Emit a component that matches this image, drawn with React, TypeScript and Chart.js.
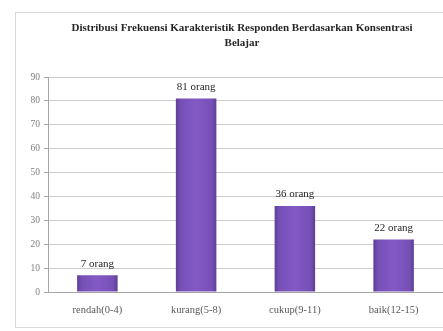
import React, { useEffect, useRef } from "react";
import { Chart, registerables } from "chart.js";

Chart.register(...registerables);

const titleLines = ["Distribusi Frekuensi Karakteristik Responden Berdasarkan Konsentrasi", "Belajar"];
const categories = ["rendah(0-4)", "kurang(5-8)", "cukup(9-11)", "baik(12-15)"];
const values = [7, 81, 36, 22];
const valueLabels = ["7 orang", "81 orang", "36 orang", "22 orang"];
const yMax = 90;
const yStep = 10;

const SERIF = "'Liberation Serif', 'Times New Roman', serif";

const titlePlugin = {
  id: "customTitle",
  afterDraw(chart: any) {
    const ctx = chart.ctx;
    ctx.save();
    ctx.fillStyle = "#262626";
    ctx.font = `bold 11px ${SERIF}`;
    ctx.textAlign = "center";
    ctx.textBaseline = "middle";
    ctx.fillText(titleLines[0], 242, 28);
    ctx.fillText(titleLines[1], 242, 43);
    ctx.restore();
  },
};

const labelPlugin = {
  id: "barLabels",
  afterDatasetsDraw(chart: any) {
    const ctx = chart.ctx;
    const meta = chart.getDatasetMeta(0);
    ctx.save();
    ctx.fillStyle = "#262626";
    ctx.font = `11px ${SERIF}`;
    ctx.textAlign = "center";
    ctx.textBaseline = "bottom";
    meta.data.forEach((el: any, i: number) => {
      ctx.fillText(valueLabels[i], el.x, el.y - 6);
    });
    ctx.restore();
  },
};

function barGradient(c: any) {
  const chart = c.chart;
  const xs = chart.scales && chart.scales.x;
  if (!xs || !chart.chartArea) return "#7a4fba";
  const cx = xs.getPixelForValue(c.dataIndex);
  const w = 41;
  const g = chart.ctx.createLinearGradient(cx - w / 2, 0, cx + w / 2, 0);
  g.addColorStop(0, "#5d3c95");
  g.addColorStop(0.12, "#7650b6");
  g.addColorStop(0.5, "#8459c6");
  g.addColorStop(0.88, "#7650b6");
  g.addColorStop(1, "#5d3c95");
  return g;
}

export default function App() {
  const ref = useRef<HTMLCanvasElement>(null);
  useEffect(() => {
    if (!ref.current) return;
    const chart = new Chart(ref.current, {
      type: "bar",
      data: {
        labels: categories,
        datasets: [
          {
            data: values,
            backgroundColor: barGradient as any,
            borderWidth: 0,
            categoryPercentage: 0.82,
            barPercentage: 0.5,
          },
        ],
      },
      options: {
        responsive: false,
        animation: false,
        layout: { padding: { top: 77, right: 0, left: 0, bottom: 0 } },
        plugins: {
          legend: { display: false },
          title: { display: false },
          tooltip: { enabled: false },
        },
        scales: {
          x: {
            grid: { display: false, drawOnChartArea: false, tickLength: 4 },
            border: { display: true, color: "#a6a6a6", width: 1 },
            ticks: {
              color: "#595959",
              font: { family: SERIF, size: 10.5 },
              padding: 8,
              maxRotation: 0,
              autoSkip: false,
            },
            afterFit: (s: any) => {
              s.height = 39;
            },
          },
          y: {
            min: 0,
            max: yMax,
            ticks: {
              stepSize: yStep,
              color: "#7f7f7f",
              font: { family: SERIF, size: 9.5 },
              padding: 4,
            },
            grid: { color: "#cccccc", lineWidth: 1, tickLength: 4, tickColor: "#a6a6a6" },
            border: { display: true, color: "#a6a6a6", width: 1 },
            afterFit: (s: any) => {
              s.width = 48;
            },
          },
        },
      },
      plugins: [titlePlugin, labelPlugin],
    });
    return () => chart.destroy();
  }, []);
  return (
    <div style={{ position: "fixed", left: 0, top: 0, width: 443, height: 331, background: "#fff" }}>
      <div
        style={{
          position: "absolute",
          left: 15,
          top: 12,
          width: 440,
          height: 316,
          border: "1px solid #d9d9d9",
          boxSizing: "border-box",
        }}
      />
      <canvas ref={ref} width={443} height={331} style={{ position: "absolute", left: 0, top: 0 }} />
    </div>
  );
}
